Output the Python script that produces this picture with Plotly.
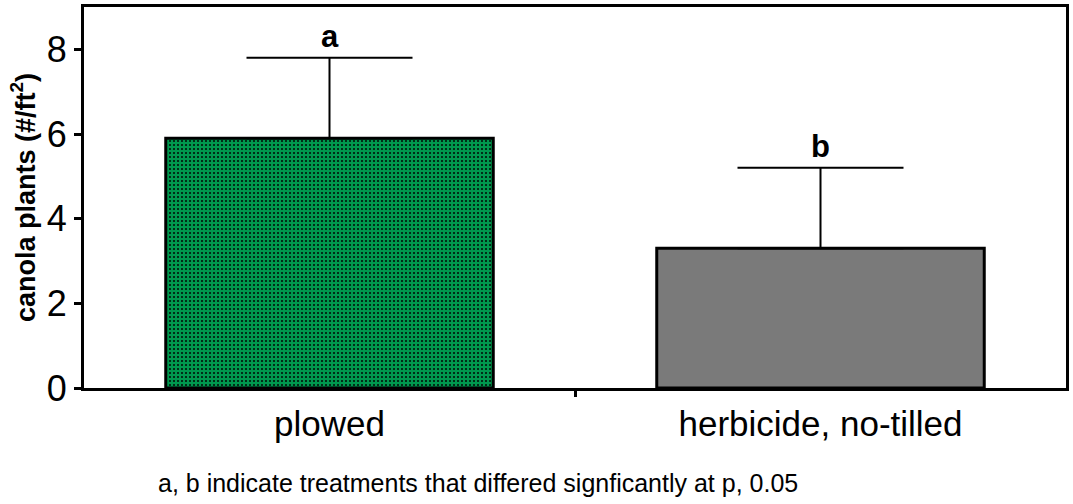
import plotly.graph_objects as go

categories = ["plowed", "herbicide, no-tilled"]
means = [5.9, 3.3]
errors = [1.9, 1.9]
letters = ["a", "b"]
y_ticks = [0, 2, 4, 6, 8]
footnote = "a, b indicate treatments that differed signficantly at p, 0.05"

xpos = list(range(len(categories)))

fig = go.Figure()
fig.add_trace(go.Bar(
    x=xpos, y=means, width=0.667,
    marker=dict(color=["#00984e", "#7a7a7a"], line=dict(color="black", width=3)),
    error_y=dict(type="data", symmetric=False, array=errors, arrayminus=[0, 0],
                 color="black", thickness=2, width=83),
    showlegend=False, hoverinfo="skip",
))
# dotted texture over the first (plowed) bar
fig.add_trace(go.Bar(
    x=xpos[:1], y=means[:1], width=0.667,
    marker=dict(color="black", line=dict(width=0),
                pattern=dict(shape=".", size=4, solidity=0.17, fillmode="replace")),
    showlegend=False, hoverinfo="skip",
))

for xi, m, e, t in zip(xpos, means, errors, letters):
    fig.add_annotation(x=xi, y=m + e, text="<b>%s</b>" % t, showarrow=False,
                       yanchor="bottom", yshift=2, font=dict(size=31, color="black",
                       family="Liberation Sans, Arial"))

fig.add_annotation(x=0.401, y=-0.25, xref="paper", yref="paper", text=footnote,
                   showarrow=False, yanchor="middle",
                   font=dict(size=25, color="black", family="Liberation Sans, Arial"))

# invisible trace on second x axis to carry the between-category tick
fig.add_trace(go.Scatter(x=[0.5], y=[0], xaxis="x2", mode="markers",
                         marker=dict(opacity=0), showlegend=False, hoverinfo="skip"))

fig.update_layout(
    width=1073, height=504, barmode="overlay",
    margin=dict(l=84, r=7, t=7, b=116),
    paper_bgcolor="white", plot_bgcolor="white",
    font=dict(family="Liberation Sans, Arial", color="black"),
    xaxis=dict(range=[-0.5, 1.5], tickvals=xpos, ticktext=categories,
               ticks="", showgrid=False, zeroline=False, automargin=False,
               showline=True, linecolor="black", linewidth=3, mirror=True,
               tickfont=dict(size=35), ticklabelstandoff=3),
    xaxis2=dict(range=[-0.5, 1.5], overlaying="x", side="bottom", tickvals=[0.5],
                showticklabels=False, ticks="outside", ticklen=8, tickwidth=3,
                tickcolor="black", showgrid=False, zeroline=False, showline=False,
                automargin=False),
    yaxis=dict(range=[0, 9], tickvals=y_ticks, ticks="outside", ticklen=7, tickwidth=3,
               tickcolor="black", showgrid=False, zeroline=False, automargin=False,
               showline=True, linecolor="black", linewidth=3, mirror=True,
               tickfont=dict(size=36),
               title=dict(text="<b>canola plants (#/ft<sup>2</sup>)</b>",
                          font=dict(size=27), standoff=4)),
)

fig.write_html("out.html", config={"displayModeBar": False},
               post_script="document.body.style.margin='0';document.body.style.overflow='hidden';")
